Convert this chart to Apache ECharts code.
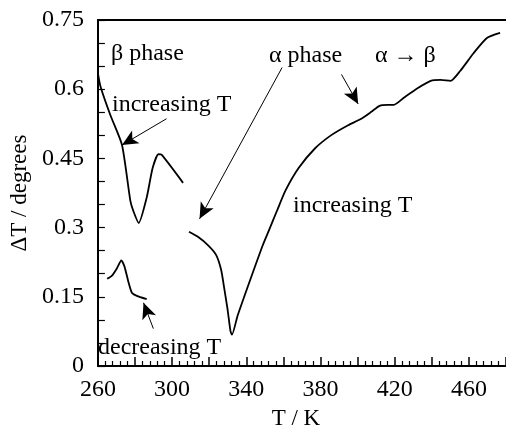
<!DOCTYPE html>
<html>
<head>
<meta charset="utf-8">
<script src="https://cdn.jsdelivr.net/npm/echarts@6/dist/echarts.min.js"></script>
<style>
  html, body { margin: 0; padding: 0; background: #fff; }
  #chart { width: 506px; height: 435px; }
</style>
</head>
<body>
<div id="chart"></div>
<script>
// Temperature axis range (K) and ΔT axis range (degrees)
const tRange = [260, 480];
const dtRange = [0, 0.75];

// β phase, heating run
const betaHeating = [
  [260, 0.635], [261.4, 0.606], [266.8, 0.543], [273.0, 0.479], [277.5, 0.358],
  [279.2, 0.335], [282.0, 0.310], [286.3, 0.365], [289.5, 0.429], [292.6, 0.459],
  [294.3, 0.458], [305.9, 0.397]
];

// β phase, cooling run
const betaCooling = [
  [265.0, 0.189], [267.6, 0.196], [270.3, 0.212], [272.6, 0.229], [274.3, 0.216],
  [276.6, 0.180], [278.3, 0.159], [281.0, 0.152], [286.3, 0.145]
];

// α phase, heating run through the α → β transition
const alphaHeating = [
  [309.1, 0.291], [313.9, 0.280], [319.3, 0.262], [323.7, 0.241], [326.4, 0.209],
  [328.2, 0.166], [329.9, 0.123], [331.5, 0.075], [332.3, 0.068], [335.3, 0.109],
  [341.5, 0.180], [348.6, 0.259], [352.2, 0.294], [356.6, 0.337], [361.1, 0.380],
  [368.2, 0.429], [377.1, 0.472], [386.0, 0.501], [394.9, 0.522], [402.0, 0.536],
  [407.4, 0.551], [411.8, 0.564], [416.3, 0.566], [419.5, 0.566], [425.1, 0.582],
  [432.3, 0.602], [439.4, 0.618], [444.7, 0.620], [450.1, 0.618], [455.4, 0.640],
  [462.5, 0.678], [469.7, 0.711], [476.8, 0.722]
];

// Annotation arrows: [tail, head] in (T, ΔT)
const arrows = [
  [[297.0, 0.536], [273.0, 0.479]],
  [[359.3, 0.647], [314.8, 0.319]],
  [[391.3, 0.632], [400.3, 0.568]],
  [[289.9, 0.081], [284.6, 0.137]]
];

// Annotation texts
const notes = [
  { text: 'β phase', x: 111, y: 54 },
  { text: 'increasing T', x: 112, y: 105 },
  { text: 'α phase', x: 269, y: 56 },
  { text: 'α → β', x: 375, y: 56 },
  { text: 'increasing T', x: 293, y: 206 },
  { text: 'decreasing T', x: 98, y: 348 }
];

const FONT = 'Liberation Serif, Times New Roman, serif';
const chart = echarts.init(document.getElementById('chart'), null, { renderer: 'canvas' });

const lineStyle = { color: '#000', width: 1.8 };

chart.setOption({
  animation: false,
  backgroundColor: '#fff',
  grid: { left: 95, top: 20, width: 412, height: 351, containLabel: false },
  xAxis: [
    {
      type: 'value', min: tRange[0], max: tRange[1], interval: 20,
      name: 'T / K', nameLocation: 'middle', nameGap: 41,
      nameTextStyle: { fontFamily: FONT, fontSize: 23, color: '#000', padding: [0, 12, 0, 0] },
      axisLine: { show: true, onZero: false, lineStyle: { color: '#000', width: 2 } },
      axisTick: { show: true, inside: true, length: 9, lineStyle: { color: '#000', width: 1.5 } },
      minorTick: { show: true, splitNumber: 5, length: 5, lineStyle: { color: '#000', width: 1.2 } },
      axisLabel: {
        margin: 12, fontFamily: FONT, fontSize: 24, color: '#000', showMaxLabel: false,
        formatter: v => ((Math.round(v) - tRange[0]) % 40 === 0 && v < tRange[1]) ? String(Math.round(v)) : ''
      },
      splitLine: { show: false }
    },
    {
      type: 'value', position: 'top', min: tRange[0], max: tRange[1],
      axisLine: { show: true, onZero: false, lineStyle: { color: '#000', width: 2 } },
      axisTick: { show: false }, axisLabel: { show: false }, splitLine: { show: false }
    }
  ],
  yAxis: {
    type: 'value', min: dtRange[0], max: dtRange[1], interval: 0.15,
    name: 'ΔT / degrees', nameLocation: 'middle', nameGap: 66,
    nameTextStyle: { fontFamily: FONT, fontSize: 23, color: '#000' },
    axisLine: { show: true, onZero: false, lineStyle: { color: '#000', width: 2 } },
    axisTick: { show: true, inside: true, length: 7, lineStyle: { color: '#000', width: 1.2 } },
    minorTick: { show: true, splitNumber: 3, length: 7, lineStyle: { color: '#000', width: 1.2 } },
    axisLabel: {
      margin: 14, fontFamily: FONT, fontSize: 24, color: '#000',
      formatter: v => String(+v.toFixed(2))
    },
    splitLine: { show: false }
  },
  series: [
    {
      type: 'line', data: betaHeating, smooth: 0.2, showSymbol: false, lineStyle,
      markLine: {
        silent: true, animation: false,
        label: { show: false },
        lineStyle: { color: '#000', width: 1, type: 'solid' },
        emphasis: { disabled: true },
        data: arrows.map(([a, b]) => [
          { coord: a, symbol: 'none' },
          { coord: b, symbol: 'arrow', symbolSize: [11, 16] }
        ])
      }
    },
    { type: 'line', data: betaCooling, smooth: 0.2, showSymbol: false, lineStyle },
    { type: 'line', data: alphaHeating, smooth: 0.2, showSymbol: false, lineStyle }
  ],
  graphic: notes.map(n => ({
    type: 'text', x: n.x, y: n.y, silent: true,
    style: { text: n.text, fill: '#000', font: '24px ' + FONT, verticalAlign: 'middle', align: 'left' }
  }))
});
</script>
</body>
</html>
